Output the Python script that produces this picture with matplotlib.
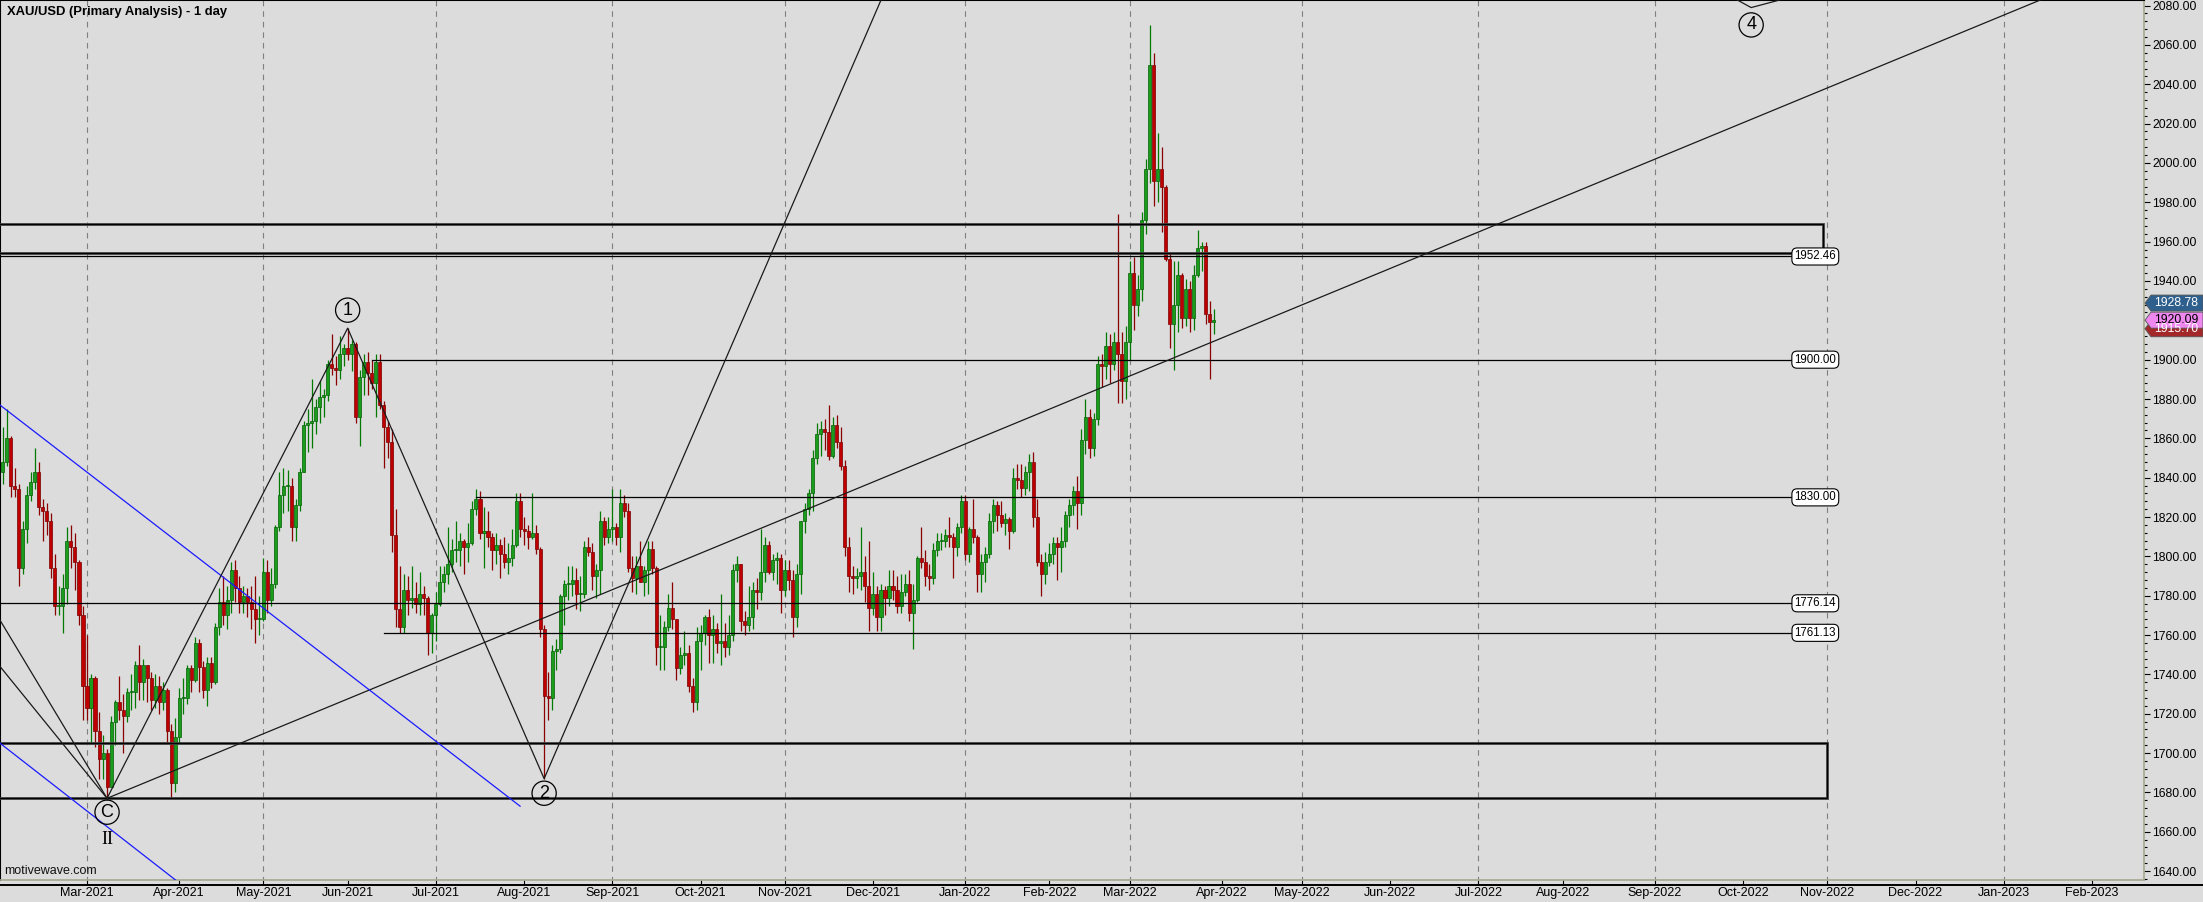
import numpy as np
import pandas as pd
import matplotlib
matplotlib.use('Agg')
import matplotlib.pyplot as plt
from matplotlib.patches import Rectangle, Polygon
from matplotlib.lines import Line2D
from matplotlib.transforms import IdentityTransform

plt.rcParams['font.family'] = ['Liberation Sans', 'DejaVu Sans']
NARROW = ['Liberation Sans Narrow', 'Liberation Sans', 'DejaVu Sans']
BG = '#dcdcdc'

# ---- XAU/USD daily bars: high / low / close per month ----
# open of each bar = previous close (first bar opens at first_open)
first_day = '2021-01-29'
first_open = 1843.0

hi_jan21 = [1866]
lo_jan21 = [1837]
cl_jan21 = [1848]

hi_feb21 = [1875, 1861, 1845, 1837, 1818, 1836, 1843, 1855, 1848, 1829, 1827, 1822, 1801, 1785, 1791, 1815, 1816, 1812, 1798, 1775]
lo_feb21 = [1846, 1830, 1830, 1785, 1791, 1807, 1828, 1834, 1821, 1808, 1811, 1789, 1770, 1770, 1761, 1776, 1794, 1783, 1765, 1717]
cl_feb21 = [1860, 1836, 1834, 1794, 1814, 1831, 1838, 1843, 1825, 1823, 1818, 1794, 1775, 1775, 1784, 1808, 1805, 1797, 1770, 1734]

hi_mar21 = [1760, 1740, 1739, 1721, 1709, 1702, 1719, 1727, 1739, 1730, 1733, 1740, 1747, 1755, 1748, 1745, 1741, 1740, 1739, 1736, 1733, 1715, 1718]
lo_mar21 = [1717, 1705, 1703, 1687, 1687, 1676, 1683, 1704, 1717, 1700, 1716, 1722, 1723, 1727, 1727, 1726, 1722, 1723, 1720, 1722, 1705, 1677, 1680]
cl_mar21 = [1723, 1738, 1711, 1697, 1700, 1683, 1716, 1726, 1722, 1719, 1731, 1731, 1745, 1736, 1745, 1738, 1727, 1734, 1726, 1732, 1711, 1685, 1708]

hi_apr21 = [1733, 1738, 1745, 1745, 1759, 1758, 1747, 1749, 1749, 1766, 1784, 1790, 1785, 1797, 1798, 1790, 1785, 1784, 1785, 1790, 1780]
lo_apr21 = [1705, 1720, 1725, 1731, 1736, 1731, 1728, 1724, 1733, 1735, 1760, 1765, 1763, 1771, 1777, 1771, 1771, 1769, 1763, 1756, 1760]
cl_apr21 = [1728, 1728, 1743, 1737, 1756, 1744, 1732, 1746, 1736, 1764, 1777, 1770, 1778, 1793, 1784, 1777, 1780, 1777, 1773, 1768, 1768]

hi_may21 = [1799, 1798, 1794, 1816, 1843, 1845, 1844, 1840, 1829, 1845, 1869, 1875, 1890, 1880, 1889, 1885, 1900, 1913, 1902, 1912, 1908]
lo_may21 = [1767, 1771, 1775, 1784, 1813, 1822, 1823, 1808, 1808, 1823, 1843, 1853, 1855, 1862, 1868, 1871, 1879, 1892, 1887, 1890, 1897]
cl_may21 = [1792, 1778, 1786, 1815, 1831, 1836, 1836, 1815, 1826, 1843, 1867, 1868, 1869, 1876, 1881, 1882, 1898, 1896, 1895, 1903, 1906]

hi_jun21 = [1916, 1910, 1909, 1895, 1903, 1904, 1900, 1903, 1903, 1879, 1869, 1865, 1824, 1795, 1791, 1790, 1795, 1787, 1792, 1785, 1780, 1771]
lo_jun21 = [1900, 1894, 1868, 1856, 1882, 1882, 1885, 1871, 1875, 1845, 1850, 1802, 1764, 1761, 1761, 1770, 1774, 1771, 1770, 1770, 1750, 1751]
cl_jun21 = [1903, 1908, 1871, 1891, 1899, 1893, 1888, 1899, 1877, 1866, 1858, 1811, 1773, 1764, 1783, 1778, 1779, 1776, 1781, 1779, 1761, 1770]

hi_jul21 = [1782, 1795, 1795, 1815, 1809, 1818, 1812, 1809, 1817, 1828, 1834, 1833, 1825, 1823, 1812, 1812, 1809, 1810, 1807, 1814, 1832, 1832]
lo_jul21 = [1757, 1775, 1782, 1786, 1792, 1797, 1795, 1791, 1797, 1806, 1821, 1809, 1794, 1805, 1793, 1796, 1789, 1794, 1791, 1795, 1805, 1810]
cl_jul21 = [1776, 1787, 1791, 1796, 1803, 1803, 1808, 1805, 1807, 1824, 1829, 1812, 1813, 1810, 1803, 1806, 1801, 1797, 1799, 1806, 1828, 1814]

hi_aug21 = [1820, 1816, 1832, 1816, 1805, 1765, 1741, 1755, 1758, 1781, 1788, 1795, 1795, 1794, 1790, 1808, 1810, 1807, 1796, 1823, 1820, 1820]
lo_aug21 = [1806, 1804, 1809, 1801, 1759, 1687, 1717, 1722, 1742, 1751, 1765, 1778, 1780, 1773, 1772, 1779, 1800, 1783, 1779, 1781, 1806, 1807]
cl_aug21 = [1813, 1810, 1812, 1804, 1763, 1729, 1728, 1752, 1753, 1780, 1786, 1786, 1788, 1781, 1781, 1805, 1802, 1790, 1793, 1818, 1810, 1814]

hi_sep21 = [1834, 1817, 1834, 1831, 1827, 1800, 1800, 1808, 1795, 1808, 1808, 1795, 1770, 1767, 1781, 1787, 1767, 1754, 1762, 1755, 1738, 1764]
lo_sep21 = [1808, 1806, 1802, 1820, 1792, 1782, 1781, 1787, 1780, 1781, 1791, 1745, 1742, 1742, 1762, 1763, 1737, 1740, 1745, 1731, 1721, 1722]
cl_sep21 = [1815, 1810, 1827, 1823, 1794, 1789, 1795, 1787, 1793, 1804, 1794, 1754, 1754, 1764, 1774, 1768, 1743, 1750, 1751, 1734, 1726, 1757]

hi_oct21 = [1765, 1770, 1773, 1770, 1766, 1781, 1766, 1770, 1796, 1800, 1796, 1772, 1785, 1787, 1789, 1814, 1810, 1808, 1801, 1802, 1801]
lo_oct21 = [1742, 1755, 1746, 1746, 1751, 1745, 1749, 1750, 1757, 1787, 1762, 1760, 1762, 1763, 1773, 1778, 1787, 1791, 1788, 1786, 1771]
cl_oct21 = [1761, 1769, 1760, 1763, 1756, 1757, 1754, 1760, 1793, 1796, 1767, 1765, 1769, 1783, 1782, 1792, 1806, 1792, 1798, 1799, 1783]

hi_nov21 = [1798, 1798, 1793, 1796, 1818, 1827, 1834, 1854, 1868, 1869, 1870, 1877, 1871, 1872, 1866, 1849, 1810, 1795, 1794, 1815, 1800, 1808]
lo_nov21 = [1780, 1783, 1759, 1764, 1781, 1812, 1821, 1823, 1847, 1851, 1854, 1849, 1850, 1855, 1844, 1800, 1782, 1781, 1784, 1783, 1777, 1762]
cl_nov21 = [1793, 1788, 1769, 1791, 1818, 1824, 1832, 1850, 1862, 1865, 1863, 1851, 1867, 1858, 1846, 1805, 1790, 1789, 1790, 1792, 1785, 1774]

hi_dec21 = [1792, 1785, 1786, 1785, 1793, 1793, 1790, 1791, 1791, 1793, 1786, 1800, 1815, 1803, 1796, 1807, 1812, 1812, 1814, 1820, 1812, 1817, 1831]
lo_dec21 = [1770, 1762, 1762, 1770, 1775, 1778, 1771, 1771, 1780, 1767, 1753, 1777, 1794, 1785, 1783, 1786, 1800, 1803, 1805, 1805, 1789, 1800, 1812]
cl_dec21 = [1781, 1769, 1783, 1779, 1785, 1783, 1775, 1782, 1786, 1771, 1778, 1799, 1797, 1790, 1789, 1803, 1808, 1808, 1811, 1810, 1805, 1815, 1828]

hi_jan22 = [1831, 1815, 1829, 1811, 1801, 1805, 1822, 1829, 1828, 1828, 1822, 1820, 1845, 1847, 1847, 1846, 1852, 1853, 1829, 1801, 1802]
lo_jan22 = [1798, 1797, 1807, 1782, 1782, 1787, 1799, 1812, 1813, 1815, 1811, 1804, 1812, 1834, 1830, 1831, 1833, 1815, 1795, 1780, 1786]
cl_jan22 = [1801, 1814, 1810, 1791, 1797, 1801, 1818, 1826, 1821, 1817, 1819, 1813, 1840, 1839, 1835, 1843, 1848, 1820, 1797, 1791, 1797]

hi_feb22 = [1807, 1810, 1810, 1815, 1823, 1829, 1836, 1841, 1865, 1880, 1875, 1873, 1902, 1903, 1914, 1913, 1914, 1974, 1914, 1917]
lo_feb22 = [1795, 1796, 1788, 1792, 1805, 1815, 1821, 1814, 1821, 1852, 1850, 1851, 1867, 1886, 1890, 1888, 1895, 1878, 1878, 1880]
cl_feb22 = [1801, 1807, 1805, 1808, 1821, 1826, 1833, 1827, 1859, 1871, 1855, 1870, 1898, 1897, 1907, 1898, 1909, 1903, 1889, 1909]

hi_mar22 = [1950, 1952, 1943, 1975, 2002, 2070, 2056, 2015, 2008, 1989, 1954, 1950, 1950, 1944, 1941, 1940, 1948, 1966, 1960, 1960, 1930, 1926]
lo_mar22 = [1900, 1915, 1922, 1930, 1964, 1990, 1978, 1980, 1965, 1950, 1906, 1895, 1914, 1916, 1917, 1914, 1915, 1942, 1945, 1918, 1890, 1913]
cl_mar22 = [1944, 1928, 1936, 1971, 1997, 2050, 1991, 1997, 1988, 1951, 1918, 1928, 1943, 1921, 1936, 1921, 1943, 1957, 1958, 1923, 1919, 1920]

months = ['jan21', 'feb21', 'mar21', 'apr21', 'may21', 'jun21', 'jul21', 'aug21', 'sep21',
          'oct21', 'nov21', 'dec21', 'jan22', 'feb22', 'mar22']
highs = np.array(sum([globals()['hi_' + m] for m in months], []), float)
lows = np.array(sum([globals()['lo_' + m] for m in months], []), float)
closes = np.array(sum([globals()['cl_' + m] for m in months], []), float)

# ---- drawings on the chart ----
wave_dates = ['2021-03-08', '2021-06-01', '2021-08-09', '2022-01-31', '2022-10-05', '2023-01-13']
wave_prices = [1677, 1916, 1687, 2276, 2079, 2118]
wave_labels = ['C', '1', '2', '', '4', '']
wave_label_off = [-10, 13, -10.5, 0, -12.5, 0]   # points, + above / - below

trend_dates = ['2021-03-08', '2022-03-29']
trend_prices = [1677, 1908.5]

fan_dates = ['2021-01-28', '2021-03-08']
fan_prices = [[1768.6, 1677], [1744.8, 1677]]

blue_dates = [['2021-01-28', '2021-07-30'], ['2021-01-28', '2021-04-01']]
blue_prices = [[1877.4, 1673.0], [1705.5, 1634.0]]

level_prices = [1952.46, 1900.00, 1830.00, 1776.14, 1761.13]
level_start = ['2021-01-25', '2021-06-09', '2021-07-15', '2021-01-25', '2021-06-14']
level_label_date = '2022-10-27'

zone_tops = [1969.0, 1705.0]
zone_bottoms = [1954.3, 1677.0]
zone_ends = ['2022-10-31', '2022-11-01']

tag_values = [1915.70, 1928.78, 1920.09]
tag_colors = ['#a3282a', '#2f5f8d', '#ee88ee']
tag_text = ['white', 'white', 'black']

# ---- trading-day axis (weekdays, Good Friday skipped) ----
days = pd.bdate_range('2021-01-25', '2023-03-31')
days = days.drop(pd.to_datetime(['2021-04-02', '2022-04-15']))
pos = {d: i for i, d in enumerate(days)}


def ix(d):
    return pos[pd.Timestamp(d)]


bar_x = np.arange(ix(first_day), ix(first_day) + len(closes))
opens = np.r_[first_open, closes[:-1]]
highs = np.maximum(highs, np.maximum(opens, closes))
lows = np.minimum(lows, np.minimum(opens, closes))

W, H = 2203, 902
PX_BAR = 4.01
fig = plt.figure(figsize=(W / 100, H / 100), dpi=100, facecolor=BG)
ax = fig.add_axes([0, 22 / H, 2144 / W, 880 / H], facecolor=BG)
x0 = ix('2021-03-01') - 87 / PX_BAR
ax.set_xlim(x0, x0 + 2144 / PX_BAR)
ax.set_ylim(1635.47, 2082.85)

# month ticks, dashed grid every second month
month_ticks = []
month_labels = []
for m in pd.date_range('2021-03-01', '2023-02-01', freq='MS'):
    d = days[days >= m][0]
    month_ticks.append(ix(d))
    month_labels.append(m.strftime('%b-%Y'))
grid_x = [t for t, lab in zip(month_ticks, month_labels) if lab[:3] in ('Jan', 'Mar', 'May', 'Jul', 'Sep', 'Nov')]
ax.vlines(grid_x, 1600, 2100, color='#808080', lw=0.8, linestyles=(0, (5, 4.5)), zorder=1)

# candles
up = closes >= opens
body_lo = np.minimum(opens, closes)
body_h = np.maximum(np.abs(closes - opens), 0.5)
ax.vlines(bar_x[up], lows[up], highs[up], color='#007a00', lw=0.9, zorder=2)
ax.vlines(bar_x[~up], lows[~up], highs[~up], color='#8b0000', lw=0.9, zorder=2)
ax.bar(bar_x[up], body_h[up], 0.76, body_lo[up], color='#1c9c1c', edgecolor='#006000', lw=0.5, zorder=3)
ax.bar(bar_x[~up], body_h[~up], 0.76, body_lo[~up], color='#c00000', edgecolor='#780000', lw=0.5, zorder=3)

# support / resistance zones
xl = ax.get_xlim()
for top, bot, end in zip(zone_tops, zone_bottoms, zone_ends):
    ax.add_patch(Rectangle((ix('2021-01-25'), bot), ix(end) - ix('2021-01-25'), top - bot,
                           fill=False, ec='#3c3c3c', lw=2.0, zorder=4))
    ax.add_patch(Rectangle((ix('2021-01-25'), bot), ix(end) - ix('2021-01-25'), top - bot,
                           fill=False, ec='black', lw=0.7, zorder=4))

# horizontal levels with value boxes
lx = ix(level_label_date)
for p, s in zip(level_prices, level_start):
    ax.plot([ix(s), lx], [p, p], color='black', lw=0.9, zorder=4)
    ax.text(lx, p, f'{p:.2f}', ha='center', va='center', fontsize=8.3, zorder=6,
            bbox=dict(boxstyle='round,pad=0.22,rounding_size=0.45', fc='white', ec='black', lw=0.8))

# long trend line from C, extended to the right edge
tx = [ix(d) for d in trend_dates]
slope = (trend_prices[1] - trend_prices[0]) / (tx[1] - tx[0])
ax.plot([tx[0], xl[1]], [trend_prices[0], trend_prices[0] + slope * (xl[1] - tx[0])],
        color='#1a1a1a', lw=0.9, zorder=4)

# fan lines into C
for pr in fan_prices:
    ax.plot([ix(d) for d in fan_dates], pr, color='#1a1a1a', lw=0.9, zorder=4)

# blue channel
for ds, pr in zip(blue_dates, blue_prices):
    ax.plot([ix(d) for d in ds], pr, color='#1a1aff', lw=0.9, zorder=4)

# Elliott wave path and labels
wx = [ix(d) for d in wave_dates]
ax.plot(wx, wave_prices, color='#1a1a1a', lw=0.9, zorder=4)
for x, p, lab, off in zip(wx, wave_prices, wave_labels, wave_label_off):
    if lab:
        ax.annotate(lab, (x, p), xytext=(0, off), textcoords='offset points', ha='center', va='center',
                    fontsize=13, zorder=7, annotation_clip=False,
                    bbox=dict(boxstyle='circle,pad=0.2', fc='none', ec='black', lw=0.9))
ax.annotate('II', (wx[0], wave_prices[0]), xytext=(0, -29.5), textcoords='offset points', ha='center',
            va='center', fontsize=13, family=['Liberation Serif', 'DejaVu Serif'], zorder=7)

# axes look
for s in ('left', 'top'):
    ax.spines[s].set_color('black')
    ax.spines[s].set_linewidth(1.5)
for s in ('right', 'bottom'):
    ax.spines[s].set_color('#a6a68e')
    ax.spines[s].set_linewidth(1.2)

ax.yaxis.tick_right()
ax.set_yticks(np.arange(1640, 2081, 20))
ax.set_yticks(np.arange(1636, 2081, 4), minor=True)
ax.set_yticklabels([f'{v:.2f}' for v in np.arange(1640, 2081, 20)])
ax.tick_params(axis='y', which='major', direction='out', length=4, width=0.8, pad=2, labelsize=8.8, colors='black')
ax.tick_params(axis='y', which='minor', direction='out', length=2.2, width=0.8)
ax.set_xticks(month_ticks)
ax.set_xticklabels(month_labels, family=NARROW, fontsize=9)
ax.tick_params(axis='x', direction='out', length=3.6, width=0.8, pad=1.5, colors='black')

fig.add_artist(Line2D([0, 1], [17 / H, 17 / H], transform=fig.transFigure, color='black', lw=1.4))

fig.text(7 / W, 1 - 12 / H, 'XAU/USD (Primary Analysis) - 1 day', fontsize=9.4, fontweight='bold',
         va='center', ha='left')
ax.text(4 / 2144, (880 - 870.5) / 880, 'motivewave.com', transform=ax.transAxes, fontsize=9,
        va='center', ha='left', color='#111111')

# price tags on the price axis (the red one sits partly under the pink one, as in the source)
for v, c, tc in zip(tag_values, tag_colors, tag_text):
    yp = ax.transData.transform((0, v))[1]
    poly = Polygon([[2145, yp], [2151, yp + 8], [W, yp + 8], [W, yp - 8], [2151, yp - 8]],
                   closed=True, fc=c, ec='#555555', lw=0.6, transform=IdentityTransform())
    fig.add_artist(poly)
    fig.text(2176 / W, yp / H, f'{v:.2f}', color=tc, fontsize=8.8, ha='center', va='center')

fig.savefig('out.png', dpi=100, facecolor=BG)
